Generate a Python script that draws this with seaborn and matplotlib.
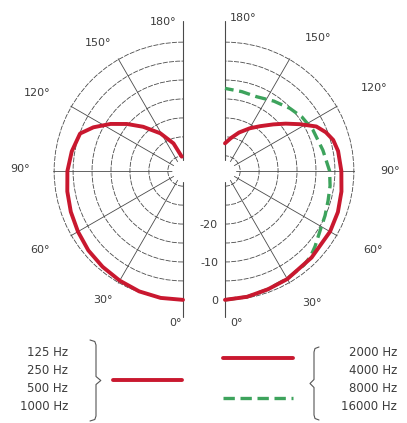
import numpy as np
import matplotlib
matplotlib.use("Agg")
import matplotlib.pyplot as plt
from matplotlib.transforms import offset_copy
import seaborn as sns

# polar response in dB, angles in degrees (0 = on axis)
low_deg = [0, 10, 20, 30, 40, 50, 60, 70, 80, 90, 100, 110, 116, 123, 130, 138, 149, 161, 175]
low_db = [0, 0, -0.2, -0.6, -1.0, -1.4, -2.0, -2.5, -3.0, -3.5, -4.2, -5.1, -7.7, -11.2,
          -14.7, -18.3, -22.4, -26.3, -30.2]

mid_deg = [0, 10, 20, 30, 45, 60, 70, 80, 90, 100, 106, 111, 116, 122, 128, 134, 142, 150,
           160, 170, 180]
mid_db = [0, -0.3, -0.8, -1.1, -1.7, -2.0, -2.3, -2.8, -3.3, -3.7, -4.3, -5.5, -7.2, -10.7,
          -13.7, -16.3, -19.0, -21.0, -23.2, -25.2, -26.7]

high_deg = [0, 10, 20, 30, 40, 45, 50, 58, 66, 74, 82, 90, 102, 115, 125, 134, 145, 157, 168, 180]
high_db = [0, -0.3, -0.8, -1.2, -1.6, -2.1, -3.0, -4.4, -5.1, -5.7, -6.0, -6.4, -7.6, -8.4,
           -9.2, -10.2, -11.5, -12.7, -12.6, -12.2]

ring_db = [-30, -25, -20, -15, -10, -5, 0]
spoke_deg = [30, 60, 90, 120, 150]
angle_labels = ["0°", "30°", "60°", "90°", "120°", "150°", "180°"]
radial_labels = ["0", "-10", "-20"]
radial_vals = [0, -10, -20]

low_labels = ["125 Hz", "250 Hz", "500 Hz", "1000 Hz"]
high_labels = ["2000 Hz", "4000 Hz", "8000 Hz", "16000 Hz"]

RED = "#c9182f"
GREEN = "#3da35c"
GRID = "#4a4a4a"
TEXT = "#3c3c3c"

sns.set_theme(style="white")
plt.rcParams["font.family"] = ["DejaVu Sans"]

W, H = 407, 423
R_ORIGIN, R_MIN, R_MAX = -34.0, -31.2, 0.3
R_PX = 130.0
CY = 171
fig = plt.figure(figsize=(W / 100, H / 100), dpi=100)


def half_polar(cx, direction):
    # the half disc is centred inside a square box of side 2R
    left = cx - 1.5 * R_PX if direction < 0 else cx - 0.5 * R_PX
    ax = fig.add_axes([left / W, (H - CY - R_PX) / H, 2 * R_PX / W, 2 * R_PX / H],
                      projection="polar")
    ax.set_theta_zero_location("S")
    ax.set_theta_direction(direction)
    ax.set_thetamin(0)
    ax.set_thetamax(180)
    ax.set_rorigin(R_ORIGIN)
    ax.set_rlim(R_MIN, R_MAX)
    ax.set_thetagrids(spoke_deg, labels=[""] * len(spoke_deg))
    ax.set_rgrids(ring_db, labels=[""] * len(ring_db))
    ax.xaxis.grid(True, color=GRID, lw=0.6, ls="-")
    ax.yaxis.grid(True, color=GRID, lw=0.6, ls=(0, (6, 1.5)))
    # polar draw() turns the start/end/inner spines back on, so blank them instead
    for s in ax.spines.values():
        s.set_edgecolor("none")
        s.set_linewidth(0)
    ax.patch.set_facecolor("none")
    ax.patch.set_edgecolor("none")
    # vertical axis line, running past the rings
    ax.plot([np.pi, np.pi], [R_MIN, 5.5], color=GRID, lw=0.8, clip_on=False)
    ax.plot([0, 0], [R_MIN, 4.6], color=GRID, lw=0.8, clip_on=False)
    return ax


ax_l = half_polar(183, -1)
ax_r = half_polar(225, 1)

sns.lineplot(x=np.radians(low_deg), y=low_db, ax=ax_l, sort=False, estimator=None,
             color=RED, lw=2.8, clip_on=False)
sns.lineplot(x=np.radians(high_deg), y=high_db, ax=ax_r, sort=False, estimator=None,
             color=GREEN, lw=2.4, linestyle=(0, (3.4, 1.7)), clip_on=False)
sns.lineplot(x=np.radians(mid_deg), y=mid_db, ax=ax_r, sort=False, estimator=None,
             color=RED, lw=2.8, clip_on=False)

# angle labels: (theta, r) where each label sits
left_pos = [(3, 6.1), (31.8, 6.1), (61, 9.0), (90.7, 9.0), (118.1, 9.5), (146.6, 6.6), (172.4, 5.6)]
right_pos = [(4.5, 6.1), (33.4, 7.7), (62, 10.3), (90, 9.5), (119, 11.1), (145, 8.7), (173.3, 6.6)]
for ax, pos in ((ax_l, left_pos), (ax_r, right_pos)):
    for lab, (th, r) in zip(angle_labels, pos):
        ax.text(np.radians(th), r, lab, ha="center", va="center", fontsize=8,
                color=TEXT, clip_on=False)

shift = offset_copy(ax_r.transData, fig=fig, x=-7, y=-1, units="dots")
for lab, v in zip(radial_labels, radial_vals):
    ax_r.text(0, v, lab, transform=shift, ha="right", va="center", fontsize=8,
              color=TEXT, clip_on=False)

# legend area in pixel coordinates
leg = fig.add_axes([0, 0, 1, 1], zorder=-1)
leg.set_xlim(0, W)
leg.set_ylim(H, 0)
leg.axis("off")

rows = [352, 370, 388, 406]
for lab, y in zip(low_labels, rows):
    leg.text(68, y, lab, ha="right", va="center", fontsize=8.5, color=TEXT)
for lab, y in zip(high_labels, rows):
    leg.text(397, y, lab, ha="right", va="center", fontsize=8.5, color=TEXT)


def brace(x, y0, y1, w, d):
    ym = (y0 + y1) / 2
    xs = [x - d * w, x - d * w * 0.2, x, x, x + d * w * 0.8, x, x, x - d * w * 0.2, x - d * w]
    ys = [y0, y0 + 1.5, y0 + 5, ym - 4, ym, ym + 4, y1 - 5, y1 - 1.5, y1]
    leg.plot(xs, ys, color="#555555", lw=0.8)


brace(96, 340, 421, 6, 1)
brace(314, 347, 420, 5, -1)

leg.plot([113, 182], [380, 380], color=RED, lw=2.8)
leg.plot([223, 293], [358, 358], color=RED, lw=2.8)
leg.plot([223, 293], [398, 398], color=GREEN, lw=2.4, linestyle=(0, (3.4, 1.7)))

fig.savefig("out.png", dpi=100)
